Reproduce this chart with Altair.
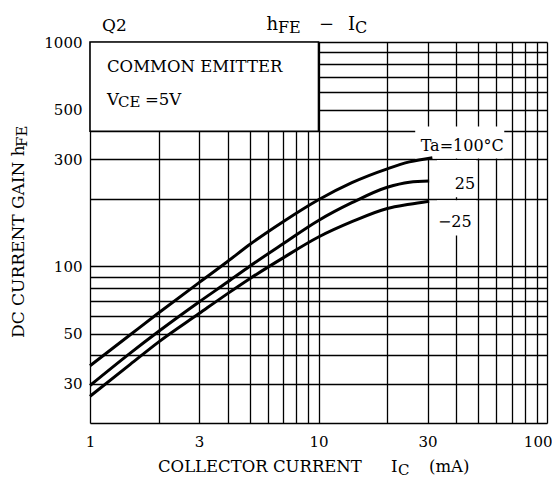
import altair as alt
import pandas as pd

F = "DejaVu Serif"

# ---- data ----
ic_100 = [1, 1.5, 2, 3, 4, 5, 7, 10, 14, 20, 25, 31.5]
hfe_100 = [36, 49.5, 62, 84.5, 105, 125, 158, 198, 236, 272, 292, 305]
ic_25 = [1, 1.5, 2, 3, 4, 5, 7, 10, 14, 20, 25, 30.5]
hfe_25 = [29.4, 41, 51.3, 69.3, 85, 100, 126, 160, 192, 225, 237, 240]
ic_m25 = [1, 1.5, 2, 3, 4, 5, 7, 10, 14, 20, 25, 30.5]
hfe_m25 = [26.3, 36.5, 46, 61.5, 75.5, 88, 109, 135, 158, 181, 189, 195]

x_grid = [1, 2, 3, 4, 5, 6, 7, 8, 9, 10, 20, 30, 40, 50, 60, 70, 80, 90, 100]
y_grid = [20, 30, 40, 50, 60, 70, 80, 90, 100, 200, 300, 400, 500, 600, 700, 800, 900, 1000]
x_labels = [1, 3, 10, 30, 100]
y_labels = [30, 50, 100, 300, 500, 1000]

lines = pd.DataFrame({
    "Ic": ic_100 + ic_25 + ic_m25,
    "hFE": hfe_100 + hfe_25 + hfe_m25,
    "Ta": ["100"] * len(ic_100) + ["25"] * len(ic_25) + ["-25"] * len(ic_m25),
})

# white background patches behind curve labels, and the condition box
patches = pd.DataFrame({
    "Ic": [26.5, 33, 33],
    "Ic2": [65, 49, 49],
    "hFE": [302, 203, 137],
    "hFE2": [420, 298, 197],
})
box = pd.DataFrame({"Ic": [1], "Ic2": [10], "hFE": [400], "hFE2": [1000]})

curve_labels = pd.DataFrame({
    "Ic": [28.0, 39.5, 33.3],
    "hFE": [326, 221, 150],
    "t": ["Ta=100°C", "25", "−25"],
})

xscale = alt.Scale(type="log", domain=[1, 100], nice=False)
yscale = alt.Scale(type="log", domain=[20, 1000], nice=False)


def lab_expr(vals):
    return ("indexof([" + ",".join(str(v) for v in vals) +
            "], datum.value) >= 0 ? format(datum.value, 'd') : ''")


xaxis = alt.Axis(values=x_grid, grid=True, gridColor="black", gridWidth=1.3, gridOpacity=1,
                 ticks=False, domain=False, labelExpr=lab_expr(x_labels), labelFont=F,
                 labelFontSize=15, labelColor="black", labelPadding=11, title=None,
                 labelFlush=False, labelOverlap=False,
                 labelAlign={"condition": {"test": "datum.value == 100", "value": "right"},
                             "value": "center"},
                 labelOffset={"condition": {"test": "datum.value == 100", "value": 5},
                              "value": 0})
yaxis = alt.Axis(values=y_grid, grid=True, gridColor="black", gridWidth=1.3, gridOpacity=1,
                 ticks=False, domain=False, labelExpr=lab_expr(y_labels), labelFont=F,
                 labelFontSize=15, labelColor="black", labelPadding=8, title=None,
                 labelFlush=False, labelOverlap=False)


def X(f):
    return alt.X(f, type="quantitative", scale=xscale, axis=xaxis)


def Y(f):
    return alt.Y(f, type="quantitative", scale=yscale, axis=yaxis)


patch_layer = alt.Chart(patches).mark_rect(fill="white").encode(
    x=X("Ic"), x2="Ic2", y=Y("hFE"), y2="hFE2")
box_layer = alt.Chart(box).mark_rect(fill="white", stroke="black", strokeWidth=1.6).encode(
    x=X("Ic"), x2="Ic2", y=Y("hFE"), y2="hFE2")
line_layer = alt.Chart(lines).mark_line(strokeWidth=3, interpolate="monotone").encode(
    x=X("Ic"), y=Y("hFE"),
    color=alt.Color("Ta:N", scale=alt.Scale(range=["black", "black", "black"]), legend=None),
    detail="Ta:N")
label_layer = alt.Chart(curve_labels).mark_text(font=F, fontSize=16, align="left",
                                                baseline="alphabetic", color="black").encode(
    x=X("Ic"), y=Y("hFE"), text="t:N")

one = pd.DataFrame({"a": [0]})


def txt(s, px, py, size=16, align="left", angle=0):
    return alt.Chart(one).mark_text(font=F, fontSize=size, align=align, baseline="alphabetic",
                                    angle=angle, color="black").encode(
        x=alt.value(px), y=alt.value(py), text=alt.value(s))


texts = [
    txt("Q2", 12, -11, 17),
    txt("h", 188, -12, 18, align="right"),
    txt("FE", 188, -9, 16),
    txt("−", 236.5, -12, 18, align="center"),
    txt("I", 265, -12, 18, align="right"),
    txt("C", 265, -9, 16),
    txt("COMMON EMITTER", 17, 30, 16.5),
    txt("V", 17, 63, 16.5),
    txt("CE", 28, 65, 15),
    txt("=5V", 55, 63, 16.5),
    txt("COLLECTOR CURRENT", 68, 430, 16.5),
    txt("I", 301, 430, 16.5),
    txt("C", 308, 433, 15),
    txt("(mA)", 339, 430, 16.5),
    txt("DC CURRENT GAIN h", -66, 296, 17, align="left", angle=270),
    txt("FE", -63, 105, 15, align="left", angle=270),
]

chart = alt.layer(patch_layer, box_layer, line_layer, label_layer, *texts).properties(
    width=457, height=381,
    autosize=alt.AutoSizeParams(type="none"),
    padding={"left": 82, "top": 34, "right": 5, "bottom": 56},
).configure_view(stroke="black", strokeWidth=2.2).configure(background="white")

chart.save("out.html", embed_options={"renderer": "svg", "actions": False})
